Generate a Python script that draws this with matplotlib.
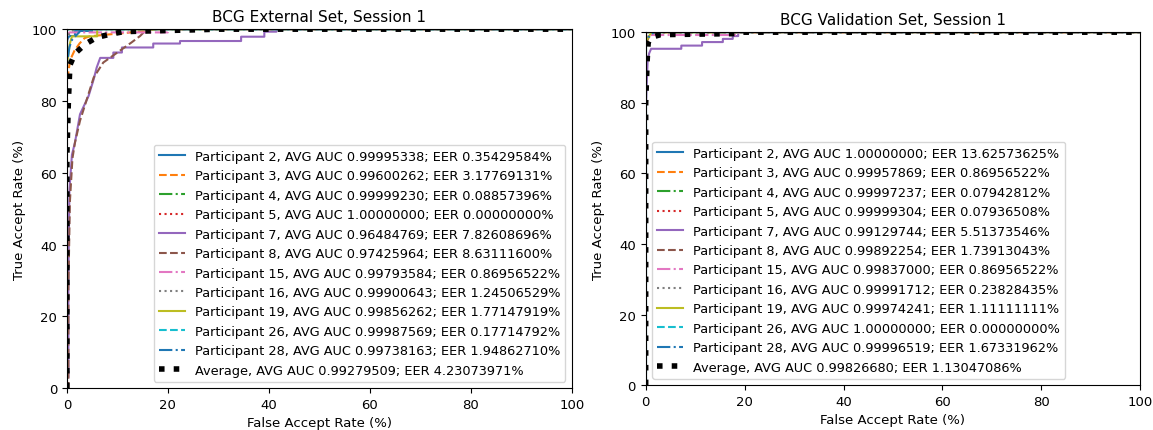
import matplotlib.pyplot as plt
import numpy as np

participants = [2, 3, 4, 5, 7, 8, 15, 16, 19, 26, 28]
styles = ['-', '--', '-.', ':']

# ---- External set, session 1 ----
ext_auc = [0.99995338, 0.99600262, 0.99999230, 1.00000000, 0.96484769, 0.97425964,
           0.99793584, 0.99900643, 0.99856262, 0.99987569, 0.99738163]
ext_eer = [0.35429584, 3.17769131, 0.08857396, 0.00000000, 7.82608696, 8.63111600,
           0.86956522, 1.24506529, 1.77147919, 0.17714792, 1.94862710]
ext_avg_auc, ext_avg_eer = 0.99279509, 4.23073971

ext_far = [
    [0, 0, 0.1, 0.5, 1.6, 1.6, 5.0, 5.0, 100],
    [0, 0, 0.3, 0.6, 1.0, 1.5, 2.5, 3.5, 4.5, 8.0, 12.0, 18.0, 100],
    [0, 0, 0.1, 100],
    [0, 0, 0.0, 100],
    [0, 0, 0.3, 0.3, 0.5, 1.0, 1.6, 2.6, 4.3, 5.3, 5.9, 6.6, 9.2, 9.2, 10.9, 10.9, 17.1,
     17.1, 22.4, 22.4, 34.5, 34.5, 39.1, 39.1, 41.5, 41.5, 100],
    [0, 0.3, 0.3, 0.6, 1.1, 1.6, 2.6, 4.3, 5.3, 7.2, 8.6, 10.9, 12.8, 14.5, 15.5, 16.1, 100],
    [0, 0, 0.5, 20.0, 20.0, 100],
    [0, 0, 0.5, 1.5, 100],
    [0, 0, 0.3, 0.6, 1.0, 6.0, 6.0, 100],
    [0, 0, 0.2, 100],
    [0, 0, 0.5, 1.0, 2.0, 3.0, 100],
]
ext_tar = [
    [0, 96, 97.2, 98.1, 98.1, 99.5, 99.5, 100, 100],
    [0, 85, 88, 91, 92.5, 94, 96, 97.5, 98, 98.5, 99, 100, 100],
    [0, 99.8, 100, 100],
    [0, 100, 100, 100],
    [0, 3, 3, 30, 55, 65, 68.4, 76.3, 81.4, 86, 89.3, 92, 92, 93.5, 93.5, 94.9, 94.9,
     96, 96, 96.7, 96.7, 97.9, 97.9, 99.3, 99.3, 100, 100],
    [0, 0, 28, 52, 64, 68.4, 74.5, 82, 86.5, 90.7, 92.1, 94.4, 96.3, 98.1, 99.5, 100, 100],
    [0, 97, 99.1, 99.1, 100, 100],
    [0, 97, 98.8, 100, 100],
    [0, 90, 93, 96, 98, 98, 100, 100],
    [0, 99.5, 100, 100],
    [0, 90, 95, 97, 98.5, 100, 100],
]
ext_avg_far = [0, 0, 0.3, 0.6, 1.6, 3.6, 5.9, 8.6, 11.2, 16.0, 25.0, 30.0, 100]
ext_avg_tar = [0, 65, 80, 90, 93.2, 95.8, 97.7, 98.6, 99.3, 99.5, 99.8, 100, 100]

# ---- Validation set, session 1 ----
val_auc = [1.00000000, 0.99957869, 0.99997237, 0.99999304, 0.99129744, 0.99892254,
           0.99837000, 0.99991712, 0.99974241, 1.00000000, 0.99996519]
val_eer = [13.62573625, 0.86956522, 0.07942812, 0.07936508, 5.51373546, 1.73913043,
           0.86956522, 0.23828435, 1.11111111, 0.00000000, 1.67331962]
val_avg_auc, val_avg_eer = 0.99826680, 1.13047086

val_far = [
    [0, 0, 100],
    [0, 0, 0.9, 2.0, 100],
    [0, 0, 0.1, 100],
    [0, 0, 0.1, 100],
    [0, 0, 0.2, 0.4, 0.7, 1.1, 7.2, 7.2, 11.4, 11.4, 15.6, 15.6, 17.6, 17.6, 18.7, 18.7, 100],
    [0, 0, 0.5, 1.7, 100],
    [0, 0, 0.5, 18.5, 18.5, 100],
    [0, 0, 0.3, 100],
    [0, 0, 0.5, 1.2, 100],
    [0, 0, 100],
    [0, 0, 0.5, 1.7, 100],
]
val_tar = [
    [0, 100, 100],
    [0, 97, 99.1, 100, 100],
    [0, 99.8, 100, 100],
    [0, 99.8, 100, 100],
    [0, 77, 85, 92, 94, 95.3, 95.3, 96.2, 96.2, 97.2, 97.2, 98.1, 98.1, 98.9, 98.9, 100, 100],
    [0, 96, 98.5, 100, 100],
    [0, 97, 99.2, 99.2, 100, 100],
    [0, 99.5, 100, 100],
    [0, 97, 98.5, 100, 100],
    [0, 100, 100],
    [0, 96, 98.5, 100, 100],
]
val_avg_far = [0, 0, 0.3, 0.5, 1.0, 3.0, 18.0, 19.0, 100]
val_avg_tar = [0, 80, 92, 97, 98.5, 99.3, 99.6, 100, 100]


def draw_panel(ax, title, far, tar, auc, eer, avg_far, avg_tar, avg_auc, avg_eer, loc):
    for i, p in enumerate(participants):
        ax.plot(far[i], tar[i], linestyle=styles[i % 4], color='C%d' % (i % 10), lw=1.5,
                label='Participant %d, AVG AUC %.8f; EER %.8f%%' % (p, auc[i], eer[i]))
    ax.plot(avg_far, avg_tar, ':', color='black', lw=4,
            label='Average, AVG AUC %.8f; EER %.8f%%' % (avg_auc, avg_eer))
    ax.set_xlim(0, 100)
    ax.set_ylim(0, 100)
    ax.set_xticks(np.arange(0, 101, 20))
    ax.set_yticks(np.arange(0, 101, 20))
    ax.set_title(title, fontsize=11)
    ax.set_xlabel('False Accept Rate (%)', fontsize=9.5)
    ax.set_ylabel('True Accept Rate (%)', fontsize=9.5)
    ax.tick_params(labelsize=9.5)
    ax.legend(loc=loc, fontsize=9.25)


fig = plt.figure(figsize=(11.53, 4.31), dpi=100)
ax1 = fig.add_axes([0.058, 0.097, 0.438, 0.833])
ax2 = fig.add_axes([0.560, 0.104, 0.429, 0.819])

draw_panel(ax1, 'BCG External Set, Session 1', ext_far, ext_tar, ext_auc, ext_eer,
           ext_avg_far, ext_avg_tar, ext_avg_auc, ext_avg_eer, 'lower right')
draw_panel(ax2, 'BCG Validation Set, Session 1', val_far, val_tar, val_auc, val_eer,
           val_avg_far, val_avg_tar, val_avg_auc, val_avg_eer, 'lower left')

fig.savefig('out.png', dpi=100)
